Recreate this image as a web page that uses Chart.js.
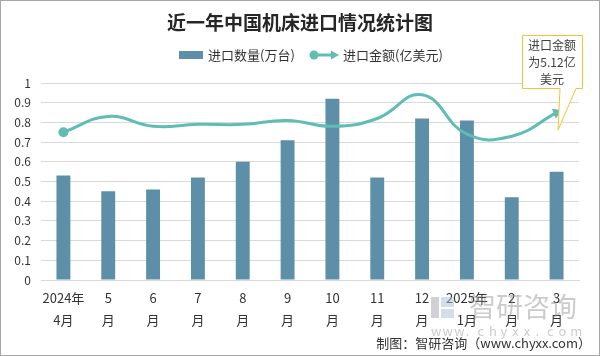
<!DOCTYPE html>
<html><head><meta charset="utf-8">
<script src="https://cdn.jsdelivr.net/npm/chart.js@4.4.1/dist/chart.umd.min.js"></script>
<style>
html,body{margin:0;padding:0;background:#fff;}
#wrap{position:relative;width:600px;height:356px;box-sizing:border-box;border:1px solid #a6a6a6;overflow:hidden;}
canvas{position:absolute;left:-1px;top:-1px;}
</style></head><body>
<div id="wrap"><canvas id="c" width="600" height="356"></canvas></div>
<script>
const categories = [["2024年","4月"],["5","月"],["6","月"],["7","月"],["8","月"],["9","月"],["10","月"],["11","月"],["12","月"],["2025年","1月"],["2","月"],["3","月"]];
const quantity = [0.53,0.45,0.46,0.52,0.60,0.71,0.92,0.52,0.82,0.81,0.42,0.55];
const amount = [0.75,0.83,0.78,0.79,0.79,0.81,0.78,0.82,0.94,0.74,0.73,0.85];
const yTicks = [0,0.1,0.2,0.3,0.4,0.5,0.6,0.7,0.8,0.9,1];
const titleText = "近一年中国机床进口情况统计图";
const seriesNames = ["进口数量(万台)","进口金额(亿美元)"];
const calloutLines = ["进口金额","为5.12亿","美元"];
const footerText = "制图：智研咨询（www.chyxx.com）";

const FONT = "'Noto Sans CJK SC','Noto Sans',sans-serif";
const BAR = "#5d8fa8", LINE = "#5fbdb4";

const n = amount.length;
const pStyles = amount.map((v,i)=> i===n-1 ? 'triangle' : 'circle');
const pRadius = amount.map((v,i)=> i===0 ? 5 : (i===n-1 ? 6 : 0));
const pRot = amount.map((v,i)=> i===n-1 ? 68 : 0);

const decor = {
  id:'decor',
  afterDraw(chart){
    const ctx = chart.ctx;
    ctx.save();
    // title
    ctx.fillStyle = "#262626";
    ctx.font = "bold 19px " + FONT;
    ctx.textAlign = "center"; ctx.textBaseline = "middle";
    ctx.fillText(titleText, 300, 23);
    // legend
    ctx.font = "13px " + FONT;
    ctx.textAlign = "left";
    ctx.fillStyle = BAR;
    ctx.fillRect(179, 51, 24, 8);
    ctx.fillStyle = "#333";
    ctx.fillText(seriesNames[0], 208, 55);
    ctx.strokeStyle = LINE; ctx.lineWidth = 3;
    ctx.beginPath(); ctx.moveTo(314,55); ctx.lineTo(332,55); ctx.stroke();
    ctx.fillStyle = LINE;
    ctx.beginPath(); ctx.arc(314,55,4.5,0,Math.PI*2); ctx.fill();
    ctx.beginPath(); ctx.moveTo(339,55); ctx.lineTo(331,50.5); ctx.lineTo(331,59.5); ctx.closePath(); ctx.fill();
    ctx.fillStyle = "#333";
    ctx.fillText(seriesNames[1], 343, 55);
    // watermark
    ctx.fillStyle = "rgba(140,140,150,0.4)";
    ctx.fillRect(431,297,8,21);
    ctx.fillStyle = "rgba(170,190,215,0.5)";
    ctx.fillRect(441,297,13,10);
    ctx.fillRect(441,309,13,9);
    ctx.fillStyle = "rgba(140,140,140,0.45)";
    ctx.font = "27px " + FONT;
    ctx.textAlign = "left";
    ctx.fillText("智研咨询", 469, 307);
    ctx.font = "13px " + FONT;
    const w = "www.chyxx.com";
    for (let i=0;i<w.length;i++) ctx.fillText(w[i], 431 + i*11.6, 331);
    // footer
    ctx.fillStyle = "#333";
    ctx.font = "13px 'Noto Sans CJK SC', 'DejaVu Sans Mono', monospace";
    ctx.textAlign = "right";
    ctx.fillText(footerText, 591, 343);
    // callout
    ctx.fillStyle = "#fff";
    ctx.strokeStyle = "#f5c231"; ctx.lineWidth = 1;
    ctx.beginPath();
    ctx.moveTo(522.5,35.5); ctx.lineTo(582.5,35.5); ctx.lineTo(582.5,88.5);
    ctx.lineTo(576,88.5); ctx.lineTo(558,130); ctx.lineTo(560,88.5);
    ctx.lineTo(522.5,88.5); ctx.closePath();
    ctx.fill(); ctx.stroke();
    ctx.fillStyle = "#404040";
    ctx.font = "12px " + FONT;
    ctx.textAlign = "center";
    calloutLines.forEach((t,i)=> ctx.fillText(t, 552, 45 + i*17));
    ctx.restore();
  }
};

new Chart(document.getElementById('c'), {
  data: {
    labels: categories,
    datasets: [
      { type:'line', label:seriesNames[1], data:amount, borderColor:LINE, backgroundColor:LINE,
        borderWidth:3, tension:0.45, pointStyle:pStyles, pointRadius:pRadius, pointRotation:pRot,
        pointBorderWidth:0, pointBackgroundColor:LINE, order:0 },
      { type:'bar', label:seriesNames[0], data:quantity, backgroundColor:BAR,
        categoryPercentage:1, barPercentage:0.31, order:1 }
    ]
  },
  options: {
    responsive:false, animation:false, devicePixelRatio:1,
    layout:{ padding:{ top:83, right:21, left:0, bottom:0 } },
    plugins:{ legend:{display:false}, tooltip:{enabled:false}, title:{display:false} },
    scales:{
      x:{
        grid:{ display:false, drawTicks:false },
        border:{ color:"#d9d9d9", width:1 },
        ticks:{ color:"#333", font:{ size:13, family:FONT, lineHeight:1.7 }, padding:7, maxRotation:0, autoSkip:false },
        afterFit(s){ s.height = 76; }
      },
      y:{
        min:0, max:1,
        afterBuildTicks(s){ s.ticks = yTicks.map(v=>({value:v})); },
        grid:{ color:"#d9d9d9", drawTicks:false },
        border:{ display:false },
        ticks:{ color:"#333", font:{ size:12, family:FONT }, padding:10,
          callback:(v)=> String(Math.round(v*10)/10) },
        afterFit(s){ s.width = 41; }
      }
    }
  },
  plugins:[decor]
});
</script>
</body></html>
